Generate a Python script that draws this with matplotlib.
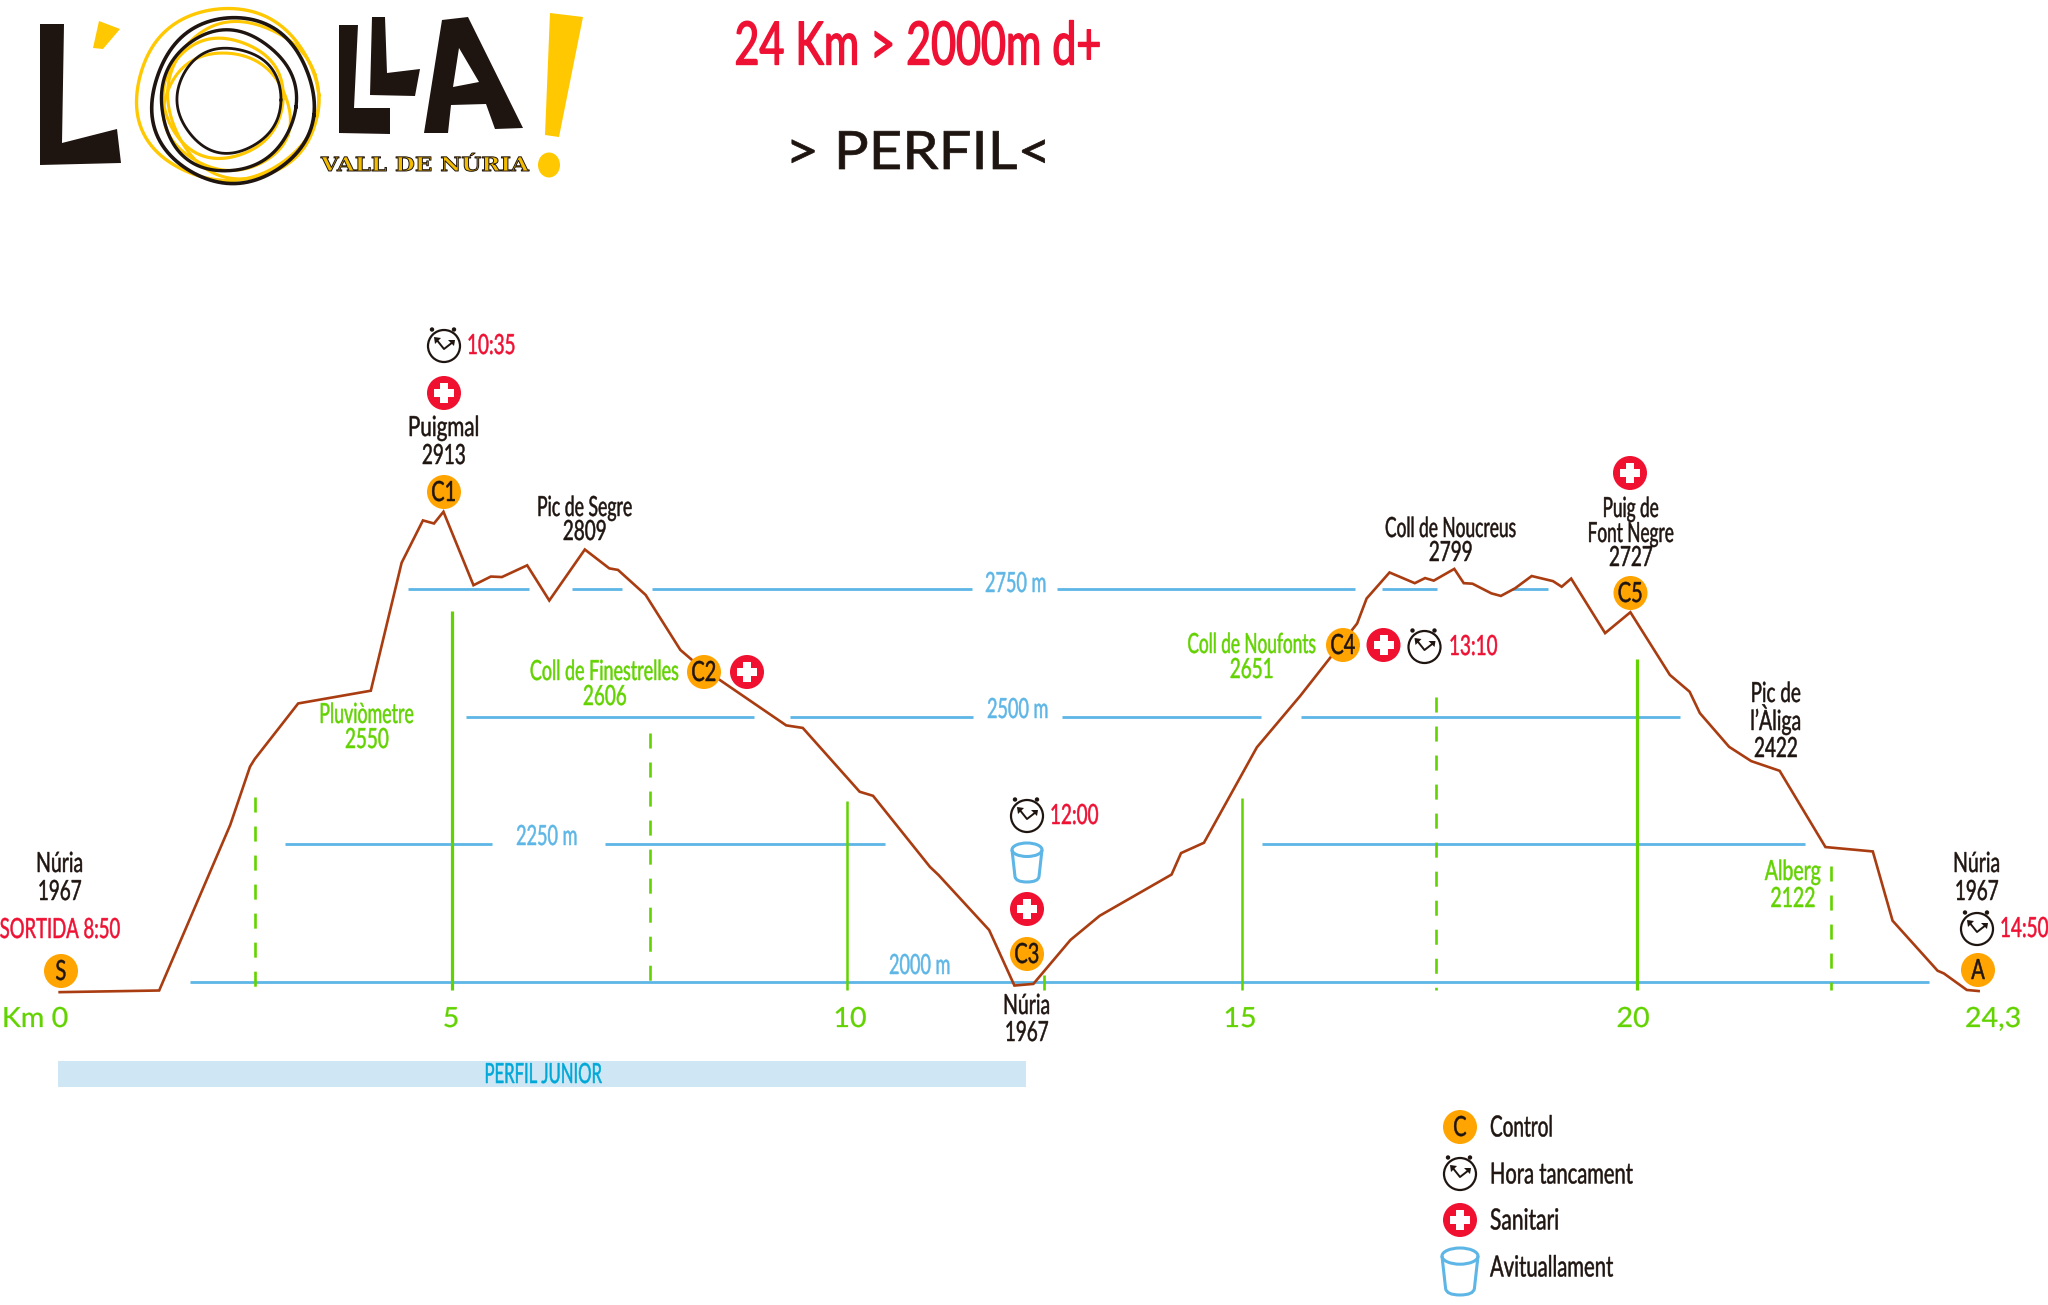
import numpy as np
import matplotlib
matplotlib.use("Agg")
import matplotlib.pyplot as plt
from matplotlib.patches import Circle, Ellipse, Polygon, Rectangle, PathPatch
from matplotlib.path import Path
from matplotlib.patheffects import AbstractPathEffect
from matplotlib.text import Text
from matplotlib.transforms import Affine2D, Bbox

# ---------- data ----------
profile_km = [0.03, 1.29, 2.19, 2.44, 2.50, 3.05, 3.97, 4.36, 4.63, 4.77, 4.89, 5.27, 5.49, 5.63,
              5.95, 6.23, 6.68, 6.99, 7.10, 7.45, 7.89, 8.04, 8.39, 9.23, 9.44, 10.16, 10.33,
              11.05, 11.16, 11.80, 12.12, 12.36, 12.83, 13.20, 14.11, 14.23, 14.52, 15.19, 15.74,
              16.46, 16.58, 16.87, 17.19, 17.32, 17.43, 17.69, 17.81, 17.92, 18.16, 18.28, 18.46,
              18.67, 18.94, 19.05, 19.17, 19.60, 19.92, 20.42, 20.67, 20.80, 21.17, 21.45, 21.81,
              22.39, 22.99, 23.24, 23.81, 23.89, 24.18, 24.33]
profile_alt = [1981, 1984, 2288, 2402, 2417, 2526, 2551, 2802, 2885, 2879, 2902, 2758, 2775, 2774,
               2797, 2728, 2828, 2791, 2788, 2739, 2631, 2611, 2572, 2483, 2478, 2353, 2345,
               2209, 2194, 2094, 1993, 1996, 2076, 2120, 2195, 2234, 2253, 2440, 2541,
               2683, 2732, 2783, 2762, 2772, 2767, 2790, 2762, 2761, 2742, 2737, 2752,
               2776, 2766, 2755, 2771, 2664, 2705, 2582, 2549, 2507, 2441, 2413, 2394,
               2245, 2237, 2111, 2020, 2015, 1985, 1983]

grid_levels = {
    2000: [(1.68, 23.70)],
    2250: [(2.88, 5.50), (6.93, 10.48), (15.25, 22.13)],
    2500: [(5.17, 8.82), (9.28, 11.59), (12.72, 15.24), (15.75, 20.55)],
    2750: [(4.44, 5.97), (6.52, 7.15), (7.53, 11.58), (12.66, 16.43), (16.78, 17.47), (18.42, 18.88)],
}
km_solid = [5, 10, 15, 20]
km_solid_top = [2708, 2335, 2341, 2613]
km_dashed = [2.5, 7.5, 12.5, 17.46, 22.46]
km_dashed_top = [2343, 2468, 2012, 2539, 2210]
km_line_bottom = 1985

junior_km = (0.01, 12.27)

# scale anchors: the printed metre lines are not evenly spaced on the sheet
alt_anchor = np.array([1412.0, 2000.0, 2250.0, 2500.0, 2750.0, 3905.0])
row_anchor = np.array([1305.0, 981.7, 844.3, 716.7, 589.3, 0.0])

RED = "#EE1133"
GREEN = "#62D300"
BLUE = "#5DB6E6"
BROWN = "#A93C10"
INK = "#1E1410"
ORANGE = "#FFA400"
YELLOW = "#FFC800"

W, H = 2048, 1305
FACE = ["Lato", "Liberation Sans", "DejaVu Sans"]

fig = plt.figure(figsize=(W / 100, H / 100), dpi=100, facecolor="white")

# ---------- data axes ----------
ax = fig.add_axes([0, 0, 1, 1])
ax.set_yscale("function", functions=(
    lambda v: -np.interp(v, alt_anchor, row_anchor),
    lambda p: np.interp(-np.asarray(p), row_anchor[::-1], alt_anchor[::-1])))
ax.set_xlim(-57.3 / 78.97, (W - 57.3) / 78.97)
ax.set_ylim(1412, 3905)
ax.axis("off")

ax.barh((1856 + 1809) / 2, junior_km[1] - junior_km[0], height=1856 - 1809, left=junior_km[0],
        color="#CFE7F5", zorder=1)
for level, segs in grid_levels.items():
    for a, b in segs:
        ax.plot([a, b], [level, level], color=BLUE, lw=2.0, solid_capstyle="butt", zorder=2)
for k, top in zip(km_solid, km_solid_top):
    ax.plot([k, k], [km_line_bottom, top], color=GREEN, lw=1.8 if k in (10, 15) else 2.3,
            solid_capstyle="butt", zorder=3)
for k, top in zip(km_dashed, km_dashed_top):
    ax.plot([k, k], [top, km_line_bottom], color=GREEN, lw=1.9, linestyle=(0, (5.7, 5.3)), zorder=3)
ax.plot(profile_km, profile_alt, color=BROWN, lw=1.9, solid_joinstyle="miter", zorder=4)

# ---------- overlay in sheet pixels ----------
ov = fig.add_axes([0, 0, 1, 1], facecolor="none")
ov.set_xlim(0, W)
ov.set_ylim(H, 0)
ov.axis("off")


class Squeeze(AbstractPathEffect):
    """Draw the glyph outlines narrower, as the condensed face of the original."""

    def __init__(self, sx, ha, edge=None, edge_lw=1.0):
        super().__init__()
        self.sx, self.ha, self.edge, self.edge_lw = sx, ha, edge, edge_lw

    def draw_path(self, renderer, gc, tpath, affine, rgbFace=None):
        xs = tpath.vertices[:, 0]
        pivot = xs.min() if self.ha == "left" else (xs.min() + xs.max()) / 2
        tr = Affine2D().translate(-pivot, 0).scale(self.sx, 1).translate(pivot, 0) + affine
        gc0 = renderer.new_gc()
        gc0.copy_properties(gc)
        gc0.set_foreground(self.edge)
        gc0.set_linewidth(self.edge_lw)
        renderer.draw_path(gc0, tpath, tr, rgbFace)
        gc0.restore()


class CondensedText(Text):
    def __init__(self, x, y, s, sx, edge, edge_lw, **kw):
        super().__init__(x, y, s, **kw)
        self._sx = sx
        self.set_path_effects([Squeeze(sx, self.get_ha(), edge, edge_lw)])

    def get_window_extent(self, renderer=None, dpi=None):
        b = super().get_window_extent(renderer, dpi)
        if self.get_ha() == "left":
            return Bbox.from_extents(b.x0, b.y0, b.x0 + b.width * self._sx, b.y1)
        c = (b.x0 + b.x1) / 2
        return Bbox.from_extents(c - b.width * self._sx / 2, b.y0, c + b.width * self._sx / 2, b.y1)


def label(x, y, s, color=INK, size=20, ha="center", sx=0.65, family=None, edge=None, edge_lw=0.35, **kw):
    # y is the middle of the capitals; capital height in pixels is about the point size
    t = CondensedText(x, y + size / 2 - 1, s, sx, edge or color, edge_lw, color=color, fontsize=size,
                      ha=ha, va="baseline", family=family or FACE, zorder=10, **kw)
    ov.add_artist(t)
    return t


def control(x, y, s):
    ov.add_patch(Circle((x, y), 17, fc=ORANGE, ec="none", zorder=6))
    label(x, y, s, color=INK, size=20, sx=0.72)


def sanitari(x, y):
    ov.add_patch(Circle((x, y), 17, fc="#F01030", ec="none", zorder=6))
    ov.add_patch(Rectangle((x - 10, y - 4), 20, 8, fc="white", ec="none", zorder=7))
    ov.add_patch(Rectangle((x - 4, y - 10), 8, 20, fc="white", ec="none", zorder=7))


def clock(x, y):
    ov.add_patch(Circle((x, y), 16, fc="white", ec=INK, lw=1.6, zorder=6))
    ov.plot([x - 8, x, x + 9], [y - 7, y + 3, y - 4], color=INK, lw=1.4, zorder=7)
    ov.add_patch(Polygon([(x - 10, y - 9), (x - 3, y - 8), (x - 9, y - 2)], closed=True, fc=INK, ec="none", zorder=7))
    ov.add_patch(Polygon([(x + 11, y - 6), (x + 4, y - 6), (x + 10, y), ], closed=True, fc=INK, ec="none", zorder=7))
    for dx in (-12, 10):
        ov.add_patch(Circle((x + dx, y - 16.5), 2.2, fc=INK, ec="none", zorder=7))


def cup(x, top, bottom, rx):
    ry = rx * 0.45
    ov.add_patch(Ellipse((x, top + ry), 2 * rx, 2 * ry, fc="white", ec=BLUE, lw=2.2, zorder=6))
    verts = [(x - rx, top + ry), (x - rx * 0.8, bottom - ry * 0.8),
             (x - rx * 0.75, bottom), (x, bottom), (x + rx * 0.75, bottom), (x + rx * 0.8, bottom - ry * 0.8),
             (x + rx, top + ry)]
    codes = [Path.MOVETO, Path.LINETO, Path.CURVE3, Path.CURVE3, Path.CURVE3, Path.CURVE3, Path.LINETO]
    ov.add_patch(PathPatch(Path(verts, codes), fc="none", ec=BLUE, lw=2.2, zorder=6))


def scribble(cx, cy, w, h, ang, col, lw, wob=0.8, ph=0.0):
    t = np.linspace(0, 2 * np.pi, 240)
    r = 1 + wob / 60 * np.sin(3 * t + ph) + wob / 90 * np.sin(5 * t + 2 * ph)
    x0, y0 = w / 2 * r * np.cos(t), h / 2 * r * np.sin(t)
    a = np.radians(ang)
    ov.plot(cx + x0 * np.cos(a) - y0 * np.sin(a), cy + x0 * np.sin(a) + y0 * np.cos(a),
            color=col, lw=lw, zorder=5)


# logo
for pts, col in [
    ([(40, 24), (64, 24), (62, 143), (117, 129), (121, 163), (40, 165)], INK),
    ([(99, 21), (120, 29), (103, 49), (93, 48)], YELLOW),
    ([(339, 25), (358, 25), (354, 108), (390, 108), (390, 134), (339, 133)], INK),
    ([(372, 17), (385, 17), (387, 73), (420, 69), (415, 96), (370, 95)], INK),
    ([(442, 20), (468, 17), (523, 128), (495, 129), (486, 104), (451, 105), (448, 133), (424, 133)], INK),
    ([(550, 13), (583, 17), (559, 137), (545, 135)], YELLOW),
]:
    ov.add_patch(Polygon(pts, closed=True, fc=col, ec="none", zorder=5))
ov.add_patch(Polygon([(459, 48), (479, 82), (453, 87)], closed=True, fc="white", ec="none", zorder=6))
ov.add_patch(Ellipse((549, 165), 22, 25, fc=YELLOW, ec="none", zorder=5))
for cx, cy, w, h, ang, col, lw, ph in [
    (227, 95, 182, 172, 0, YELLOW, 2.4, 0.3),
    (243, 100, 150, 158, -20, YELLOW, 2.2, 1.2),
    (223, 98, 120, 120, 0, YELLOW, 2.3, 2.2),
    (227, 112, 128, 116, 20, YELLOW, 2.2, 0.8),
    (233, 101, 162, 166, 10, INK, 2.6, 0.5),
    (228, 101, 135, 141, 5, INK, 2.4, 1.7),
    (229, 100, 104, 105, 0, INK, 2.0, 2.6),
]:
    scribble(cx, cy, w, h, ang, col, lw, ph=ph)
label(425, 165, "VALL DE NÚRIA", color="#F2BC00", size=14, sx=1.18, family=["DejaVu Serif"],
      fontweight="bold", edge=INK, edge_lw=0.7)

# titles
label(918, 44, "24 Km > 2000m d+", color=RED, size=43, sx=0.72, edge_lw=1.0)
label(918, 151, "> PERFIL<", color=INK, size=38, sx=1.10, edge_lw=0.5)

# place names
label(60, 863, "Núria", sx=0.70); label(60, 891, "1967", sx=0.68)
label(60, 929, "SORTIDA 8:50", color=RED, sx=0.665)
label(444, 427, "Puigmal", sx=0.74); label(444, 455, "2913", sx=0.68)
label(585, 507, "Pic de Segre", sx=0.635); label(585, 531, "2809", sx=0.68)
label(605, 671, "Coll de Finestrelles", color=GREEN, sx=0.645); label(605, 696, "2606", color=GREEN, sx=0.68)
label(367, 714, "Pluviòmetre", color=GREEN, sx=0.64); label(367, 739, "2550", color=GREEN, sx=0.68)
label(1027, 1005, "Núria", sx=0.70); label(1027, 1032, "1967", sx=0.68)
label(1252, 644, "Coll de Noufonts", color=GREEN, sx=0.62); label(1252, 669, "2651", color=GREEN, sx=0.68)
label(1451, 528, "Coll de Noucreus", sx=0.625); label(1451, 552, "2799", sx=0.68)
label(1631, 508, "Puig de", sx=0.62); label(1631, 533, "Font Negre", sx=0.62); label(1631, 557, "2727", sx=0.68)
label(1776, 693, "Pic de", sx=0.68); label(1776, 721, "l’Àliga", sx=0.70); label(1776, 748, "2422", sx=0.68)
label(1793, 871, "Alberg", color=GREEN, sx=0.70); label(1793, 898, "2122", color=GREEN, sx=0.70)
label(1977, 863, "Núria", sx=0.70); label(1977, 891, "1967", sx=0.68)

# level names
for x, y, s in [(547, 836, "2250 m"), (1018, 709, "2500 m"), (1016, 583, "2750 m"), (920, 965, "2000 m")]:
    label(x, y, s, color=BLUE)
label(543, 1074, "PERFIL JUNIOR", color="#00A8D8", size=20, sx=0.60)

# km labels
for x, s in [(35, "Km 0"), (451, "5"), (850, "10"), (1240, "15"), (1633, "20"), (1993, "24,3")]:
    label(x, 1018, s, color=GREEN, size=20, sx=1.03, edge_lw=0.2)

# markers
for x, y, s in [(61, 971, "S"), (444, 492, "C1"), (704, 672, "C2"), (1027, 954, "C3"),
                (1343, 645, "C4"), (1630.5, 593, "C5"), (1978, 970, "A"), (1460, 1127, "C")]:
    control(x, y, s)
for x, y in [(444, 393), (747, 672), (1027, 909), (1383.5, 645), (1630, 473), (1460, 1220)]:
    sanitari(x, y)
for x, y in [(444, 346), (1027, 816), (1424.5, 647), (1977, 929), (1460, 1174)]:
    clock(x, y)
cup(1027, 843, 882, 15)
cup(1460, 1248, 1295, 18)

# closing times
label(467, 345, "10:35", color=RED, ha="left", sx=0.68)
label(1050, 815, "12:00", color=RED, ha="left", sx=0.68)
label(1449, 646, "13:10", color=RED, ha="left", sx=0.68)
label(2000, 928, "14:50", color=RED, ha="left", sx=0.68)

# legend
for y, s, sx in [(1127, "Control", 0.65), (1174, "Hora tancament", 0.69), (1220, "Sanitari", 0.72),
                 (1267, "Avituallament", 0.695)]:
    label(1490, y, s, size=21, ha="left", sx=sx)

fig.savefig("out.png", dpi=100)
